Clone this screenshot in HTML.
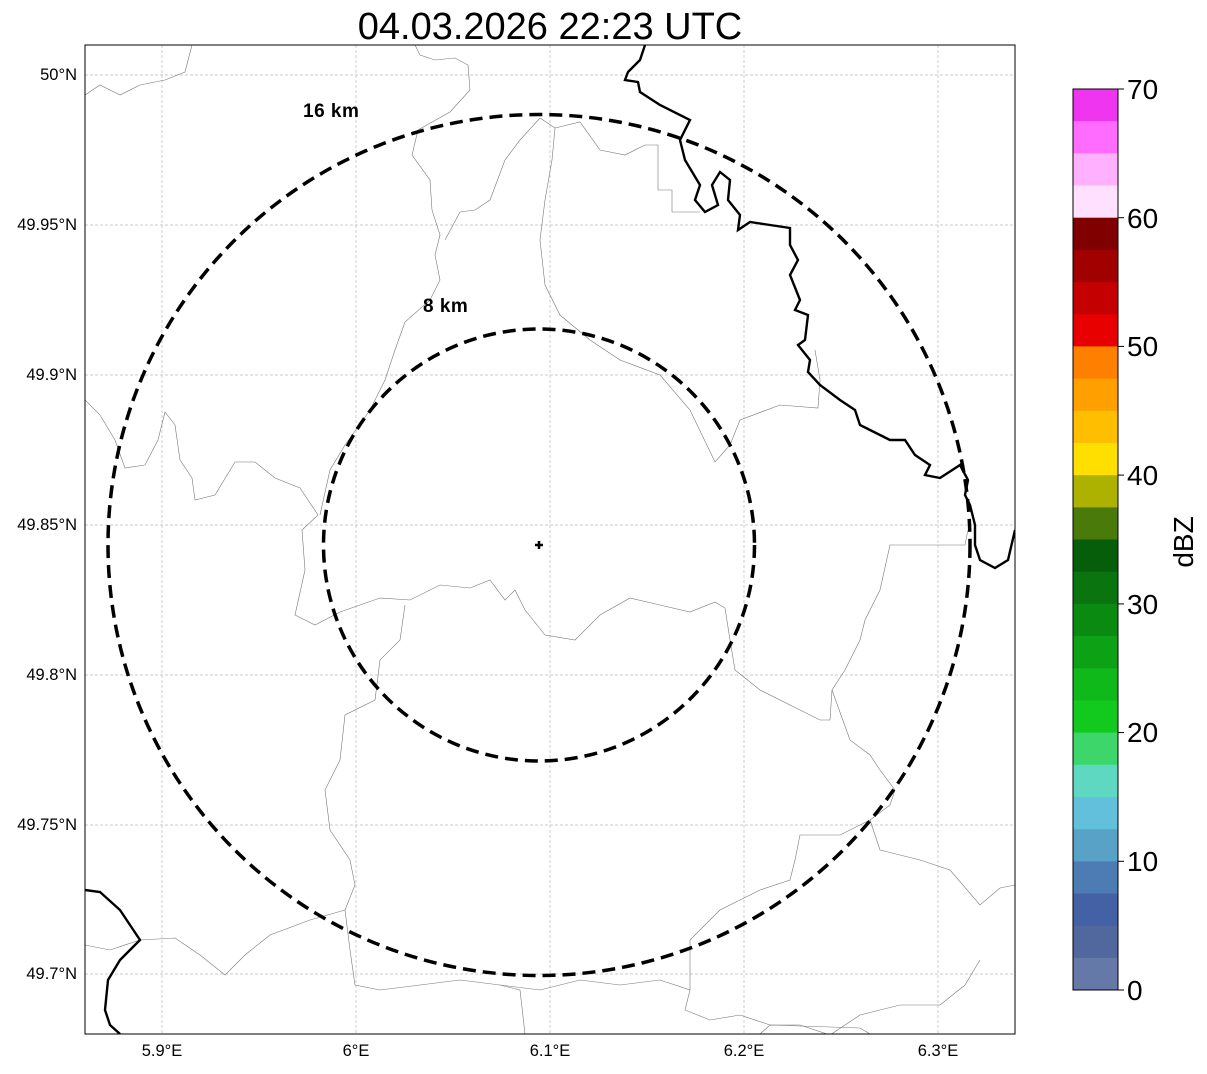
<!DOCTYPE html>
<html><head><meta charset="utf-8"><style>
body{margin:0;background:#fff;width:1207px;height:1069px;overflow:hidden;font-family:"Liberation Sans",sans-serif}
</style></head><body>
<svg width="1207" height="1069" xmlns="http://www.w3.org/2000/svg" font-family="Liberation Sans, sans-serif">
<text x="550" y="39" font-size="38" text-anchor="middle">04.03.2026 22:23 UTC</text>
<defs><clipPath id="c"><rect x="85" y="45" width="930" height="989"/></clipPath></defs>
<g stroke="#bbb" stroke-width="0.7" stroke-dasharray="3,2">
<line x1="162" y1="45" x2="162" y2="1034"/><line x1="356" y1="45" x2="356" y2="1034"/><line x1="550" y1="45" x2="550" y2="1034"/><line x1="744" y1="45" x2="744" y2="1034"/><line x1="938" y1="45" x2="938" y2="1034"/>
<line x1="85" y1="75" x2="1015" y2="75"/><line x1="85" y1="225" x2="1015" y2="225"/><line x1="85" y1="375" x2="1015" y2="375"/><line x1="85" y1="525" x2="1015" y2="525"/><line x1="85" y1="675" x2="1015" y2="675"/><line x1="85" y1="825" x2="1015" y2="825"/><line x1="85" y1="974" x2="1015" y2="974"/>
</g>
<g clip-path="url(#c)" fill="none">
<g stroke="#777" stroke-width="0.6">
<path d="M85,95 L100,85 L120,95 L140,85 L165,80 L185,72 L192,45"/>
<path d="M85,400 L100,415 L115,440 L125,468 L145,465 L158,440 L165,412 L175,425 L180,460 L192,478 L195,500 L215,495 L235,462 L255,462 L275,478 L300,488 L318,515 L302,530 L305,570 L295,615 L315,625 L340,612 L380,598 L410,600 L440,585 L470,588 L490,580 L505,600 L515,590 L525,610 L545,635 L575,640 L600,615 L630,598 L660,605 L690,612 L715,602 L725,608 L730,640"/>
<path d="M415,45 L420,55 L435,60 L455,58 L468,65 L470,90 L450,112 L418,130 L412,155 L430,180 L432,210 L440,235 L435,255 L440,280 L430,300 L405,322 L395,350 L385,380 L370,410 L345,445 L330,470 L320,515"/>
<path d="M540,118 L520,140 L505,160 L490,200 L475,210 L460,212 L445,240"/>
<path d="M540,118 L555,128 L552,160 L545,200 L540,240 L545,285 L560,315 L590,340 L620,360 L660,375 L690,410 L715,462 L730,445 L740,420 L780,405 L818,408 L820,380 L815,350"/>
<path d="M555,128 L580,122 L600,150 L625,155 L645,145 L658,145 L658,190 L672,190 L672,212 L700,212"/>
<path d="M405,605 L400,640 L380,660 L375,700 L345,715 L340,760 L325,790 L330,830 L350,860 L355,885 L345,910 L350,950 L355,985 L380,990 L420,985 L460,980 L500,985 L520,990 L525,1034"/>
<path d="M85,945 L110,950 L140,940 L175,938 L200,955 L225,975 L245,955 L270,935 L310,920 L345,910"/>
<path d="M500,985 L540,990 L580,980 L620,985 L660,980 L690,990 L685,1010 L710,1020 L740,1015 L770,1025 L800,1025 L830,1035 L860,1015 L900,1005 L940,1005 L965,985 L980,960"/>
<path d="M760,1034 L770,1025 L860,1028 L870,1034"/>
<path d="M730,640 L735,670 L760,690 L790,705 L820,720 L830,720 L832,690 L845,670 L860,640 L865,620 L880,590 L890,545 L915,545 L965,545 L968,530"/>
<path d="M832,690 L850,740 L870,755 L880,770 L895,790 L890,805 L870,820 L840,835 L800,835 L795,860 L790,880 L760,890 L720,910 L690,940 L690,990"/>
<path d="M870,820 L880,850 L920,860 L950,870 L980,905 L1000,888 L1015,885"/>
</g>
<g stroke="#000" stroke-width="2.4">
<path d="M645,45 L640,60 L628,72 L625,80 L638,82 L640,92 L660,105 L690,120 L680,140 L685,160 L700,185 L695,200 L705,212 L718,205 L712,185 L720,172 L730,180 L728,200 L740,215 L738,230 L750,222 L770,225 L790,228 L790,245 L798,260 L790,275 L800,300 L795,310 L808,315 L805,340 L798,345 L810,360 L808,372 L820,385 L840,400 L855,410 L860,425 L880,435 L890,440 L905,440 L915,455 L930,465 L925,475 L940,478 L960,465 L968,480 L965,495 L970,505 L975,525 L975,545 L980,560 L995,568 L1008,560 L1015,530"/>
<path d="M85,890 L100,892 L120,910 L140,940 L120,960 L108,980 L105,1010 L110,1025 L120,1034"/>
</g>
</g>
<rect x="85" y="45" width="930" height="989" fill="none" stroke="#000" stroke-width="1"/>
<g fill="none" stroke="#000" stroke-width="3.5" stroke-dasharray="13,7">
<ellipse cx="539" cy="545" rx="431" ry="430.5"/>
<ellipse cx="539" cy="545" rx="215.5" ry="216"/>
</g>
<path d="M535,545 H543 M539,541 V549" stroke="#000" stroke-width="2.5"/>
<text x="303" y="117" font-size="19" font-weight="bold" letter-spacing="0.5">16 km</text>
<text x="423" y="312" font-size="19" font-weight="bold" letter-spacing="0.5">8 km</text>
<g font-size="16.5" text-anchor="end">
<text x="77" y="80">50°N</text><text x="77" y="230">49.95°N</text><text x="77" y="380">49.9°N</text><text x="77" y="530">49.85°N</text><text x="77" y="680">49.8°N</text><text x="77" y="830">49.75°N</text><text x="77" y="979">49.7°N</text>
</g>
<g font-size="16.5" text-anchor="middle">
<text x="162" y="1056">5.9°E</text><text x="356" y="1056">6°E</text><text x="550" y="1056">6.1°E</text><text x="744" y="1056">6.2°E</text><text x="938" y="1056">6.3°E</text>
</g>
<g>
<rect x="1073" y="89.0" width="45" height="33" fill="#f035f0"/>
<rect x="1073" y="121.2" width="45" height="33" fill="#ff6cff"/>
<rect x="1073" y="153.4" width="45" height="33" fill="#ffb0ff"/>
<rect x="1073" y="185.5" width="45" height="33" fill="#ffe0ff"/>
<rect x="1073" y="217.7" width="45" height="33" fill="#800000"/>
<rect x="1073" y="249.9" width="45" height="33" fill="#a00000"/>
<rect x="1073" y="282.1" width="45" height="33" fill="#c40000"/>
<rect x="1073" y="314.3" width="45" height="33" fill="#e80000"/>
<rect x="1073" y="346.4" width="45" height="33" fill="#ff7f00"/>
<rect x="1073" y="378.6" width="45" height="33" fill="#ff9f00"/>
<rect x="1073" y="410.8" width="45" height="33" fill="#ffbf00"/>
<rect x="1073" y="443.0" width="45" height="33" fill="#ffdf00"/>
<rect x="1073" y="475.2" width="45" height="33" fill="#adb200"/>
<rect x="1073" y="507.4" width="45" height="33" fill="#4a7a0a"/>
<rect x="1073" y="539.5" width="45" height="33" fill="#065e0a"/>
<rect x="1073" y="571.7" width="45" height="33" fill="#0a750f"/>
<rect x="1073" y="603.9" width="45" height="33" fill="#0b8a12"/>
<rect x="1073" y="636.1" width="45" height="33" fill="#0da215"/>
<rect x="1073" y="668.3" width="45" height="33" fill="#10b91a"/>
<rect x="1073" y="700.4" width="45" height="33" fill="#12c91d"/>
<rect x="1073" y="732.6" width="45" height="33" fill="#3dd66a"/>
<rect x="1073" y="764.8" width="45" height="33" fill="#5fd8c2"/>
<rect x="1073" y="797.0" width="45" height="33" fill="#62c0dc"/>
<rect x="1073" y="829.2" width="45" height="33" fill="#58a2c8"/>
<rect x="1073" y="861.4" width="45" height="33" fill="#4d7bb4"/>
<rect x="1073" y="893.5" width="45" height="33" fill="#4561a5"/>
<rect x="1073" y="925.7" width="45" height="33" fill="#51689f"/>
<rect x="1073" y="957.9" width="45" height="32.1" fill="#6579a8"/>
<rect x="1073" y="89" width="45" height="901" fill="none" stroke="#000" stroke-width="1"/>
<g stroke="#000"><line x1="1118" y1="990" x2="1124" y2="990"/><line x1="1118" y1="861.3" x2="1124" y2="861.3"/><line x1="1118" y1="732.6" x2="1124" y2="732.6"/><line x1="1118" y1="603.9" x2="1124" y2="603.9"/><line x1="1118" y1="475.1" x2="1124" y2="475.1"/><line x1="1118" y1="346.4" x2="1124" y2="346.4"/><line x1="1118" y1="217.7" x2="1124" y2="217.7"/><line x1="1118" y1="89" x2="1124" y2="89"/></g>
<g font-size="28">
<text x="1127" y="1000">0</text><text x="1127" y="871">10</text><text x="1127" y="742">20</text><text x="1127" y="614">30</text><text x="1127" y="485">40</text><text x="1127" y="356">50</text><text x="1127" y="228">60</text><text x="1127" y="99">70</text>
</g>
<text transform="translate(1193,542) rotate(-90)" font-size="28" text-anchor="middle">dBZ</text>
</g>
</svg>
</body></html>
